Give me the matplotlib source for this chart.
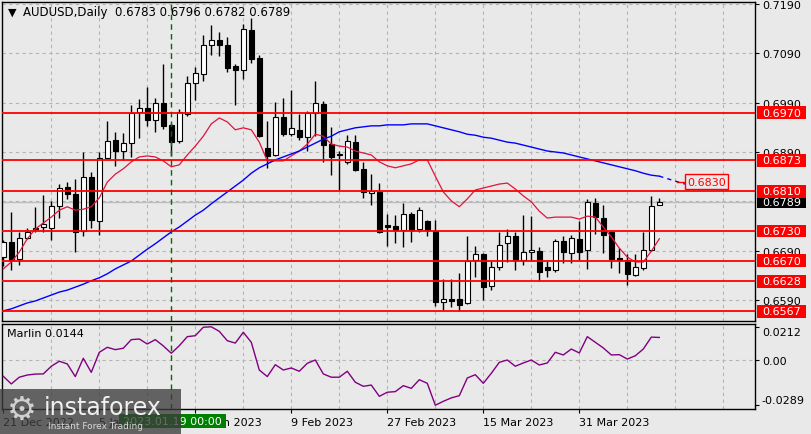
import matplotlib
matplotlib.use("Agg")
import matplotlib.pyplot as plt
import matplotlib.transforms as mtransforms
from matplotlib.patches import Rectangle

# candles (bar index 0 = 21 Dec 2022)
opens = [0.6677, 0.6708, 0.6673, 0.6715, 0.6736, 0.6737, 0.6735, 0.6780, 0.6819, 0.6805,
         0.6730, 0.6839, 0.6750, 0.6878, 0.6914, 0.6892, 0.6908, 0.6971, 0.6979, 0.6955,
         0.6989, 0.6945, 0.6912, 0.6967, 0.7030, 0.7048, 0.7107, 0.7117, 0.7107, 0.7064,
         0.7056, 0.7137, 0.7081, 0.6898, 0.6884, 0.6961, 0.6926, 0.6935, 0.6920, 0.6969,
         0.6987, 0.6906, 0.6884, 0.6870, 0.6910, 0.6856, 0.6807, 0.6809, 0.6742, 0.6740,
         0.6732, 0.6764, 0.6734, 0.6750, 0.6730, 0.6586, 0.6592, 0.6592, 0.6584, 0.6671,
         0.6683, 0.6618, 0.6657, 0.6705, 0.6720, 0.6671, 0.6687, 0.6689, 0.6657, 0.6651,
         0.6710, 0.6685, 0.6714, 0.6691, 0.6787, 0.6756, 0.6728, 0.6675, 0.6671, 0.6641,
         0.6655, 0.6691, 0.6783]
highs = [0.6712, 0.6768, 0.6728, 0.6736, 0.6779, 0.6803, 0.6791, 0.6825, 0.6829, 0.6835,
         0.6890, 0.6849, 0.6890, 0.6953, 0.6931, 0.6929, 0.6985, 0.6997, 0.7022, 0.6999,
         0.7068, 0.6949, 0.6977, 0.7044, 0.7062, 0.7127, 0.7147, 0.7133, 0.7123, 0.7068,
         0.7149, 0.7162, 0.7087, 0.6953, 0.6991, 0.6999, 0.7016, 0.6967, 0.6973, 0.7034,
         0.6993, 0.6941, 0.6892, 0.6924, 0.6924, 0.6870, 0.6845, 0.6827, 0.6764, 0.6762,
         0.6787, 0.6768, 0.6779, 0.6752, 0.6752, 0.6633, 0.6633, 0.6645, 0.6720, 0.6699,
         0.6685, 0.6669, 0.6728, 0.6734, 0.6728, 0.6762, 0.6760, 0.6697, 0.6669, 0.6714,
         0.6720, 0.6722, 0.6750, 0.6795, 0.6797, 0.6783, 0.6730, 0.6695, 0.6683, 0.6683,
         0.6728, 0.6801, 0.6796]
lows = [0.6659, 0.6651, 0.6661, 0.6713, 0.6728, 0.6728, 0.6712, 0.6756, 0.6795, 0.6687,
        0.6720, 0.6736, 0.6722, 0.6877, 0.6862, 0.6874, 0.6880, 0.6918, 0.6943, 0.6931,
        0.6937, 0.6882, 0.6908, 0.6963, 0.6995, 0.7034, 0.7087, 0.7085, 0.7052, 0.6985,
        0.7038, 0.7070, 0.6920, 0.6858, 0.6882, 0.6922, 0.6922, 0.6914, 0.6892, 0.6922,
        0.6870, 0.6843, 0.6813, 0.6866, 0.6852, 0.6797, 0.6783, 0.6726, 0.6699, 0.6705,
        0.6697, 0.6707, 0.6728, 0.6720, 0.6578, 0.6570, 0.6576, 0.6568, 0.6582, 0.6637,
        0.6590, 0.6610, 0.6651, 0.6667, 0.6651, 0.6661, 0.6669, 0.6629, 0.6637, 0.6647,
        0.6665, 0.6665, 0.6671, 0.6653, 0.6724, 0.6685, 0.6655, 0.6645, 0.6620, 0.6639,
        0.6651, 0.6689, 0.6782]
closes = [0.6708, 0.6671, 0.6715, 0.6728, 0.6734, 0.6745, 0.6780, 0.6817, 0.6805, 0.6728,
          0.6839, 0.6752, 0.6878, 0.6912, 0.6892, 0.6908, 0.6969, 0.6979, 0.6955, 0.6989,
          0.6943, 0.6910, 0.6971, 0.7030, 0.7050, 0.7107, 0.7117, 0.7107, 0.7060, 0.7056,
          0.7139, 0.7079, 0.6922, 0.6882, 0.6961, 0.6926, 0.6939, 0.6920, 0.6969, 0.6989,
          0.6904, 0.6880, 0.6886, 0.6912, 0.6854, 0.6809, 0.6811, 0.6728, 0.6738, 0.6732,
          0.6764, 0.6732, 0.6772, 0.6732, 0.6586, 0.6592, 0.6588, 0.6580, 0.6669, 0.6683,
          0.6616, 0.6657, 0.6701, 0.6720, 0.6671, 0.6687, 0.6691, 0.6647, 0.6651, 0.6710,
          0.6687, 0.6716, 0.6687, 0.6789, 0.6758, 0.6722, 0.6673, 0.6671, 0.6643, 0.6657,
          0.6691, 0.6781, 0.6789]

# fast MA (red) and slow MA (blue), read per bar
ma_fast = [0.6653, 0.6667, 0.6687, 0.6714, 0.6734, 0.6746, 0.6758, 0.6772, 0.6779, 0.6772,
           0.6774, 0.6779, 0.6797, 0.6829, 0.6845, 0.6856, 0.6870, 0.6880, 0.6882, 0.6880,
           0.6872, 0.6860, 0.6864, 0.6884, 0.6902, 0.6922, 0.6947, 0.6959, 0.6951, 0.6935,
           0.6939, 0.6935, 0.6910, 0.6872, 0.6872, 0.6872, 0.6882, 0.6892, 0.6906, 0.6926,
           0.6922, 0.6906, 0.6902, 0.6900, 0.6892, 0.6888, 0.6884, 0.6870, 0.6862, 0.6858,
           0.6862, 0.6866, 0.6874, 0.6874, 0.6841, 0.6809, 0.6791, 0.6779, 0.6795, 0.6813,
           0.6817, 0.6821, 0.6825, 0.6827, 0.6815, 0.6801, 0.6789, 0.6770, 0.6756, 0.6758,
           0.6758, 0.6758, 0.6754, 0.6760, 0.6758, 0.6738, 0.6718, 0.6695, 0.6677, 0.6667,
           0.6667, 0.6689, 0.6714]
ma_slow = [0.6568, 0.6572, 0.6578, 0.6584, 0.6588, 0.6594, 0.6600, 0.6606, 0.6610, 0.6616,
           0.6622, 0.6629, 0.6635, 0.6643, 0.6653, 0.6661, 0.6669, 0.6681, 0.6693, 0.6704,
           0.6716, 0.6728, 0.6738, 0.6750, 0.6762, 0.6772, 0.6785, 0.6797, 0.6809, 0.6821,
           0.6833, 0.6847, 0.6858, 0.6866, 0.6874, 0.6880, 0.6886, 0.6892, 0.6900, 0.6908,
           0.6916, 0.6922, 0.6931, 0.6935, 0.6939, 0.6941, 0.6943, 0.6943, 0.6945, 0.6945,
           0.6945, 0.6947, 0.6947, 0.6947, 0.6943, 0.6939, 0.6935, 0.6931, 0.6926, 0.6924,
           0.6920, 0.6918, 0.6914, 0.6910, 0.6908, 0.6904, 0.6900, 0.6896, 0.6892, 0.6890,
           0.6888, 0.6884, 0.6880, 0.6876, 0.6872, 0.6868, 0.6864, 0.6860, 0.6856, 0.6852,
           0.6847, 0.6843, 0.6841]
proj_bars = [82, 85.2]
proj_vals = [0.6841, 0.6825]
target = 0.6830

marlin = [-0.0104, -0.0153, -0.0110, -0.0096, -0.0090, -0.0089, -0.0040, -0.0008, -0.0025, -0.0106,
          0.0011, -0.0079, 0.0049, 0.0081, 0.0066, 0.0075, 0.0130, 0.0134, 0.0102, 0.0130,
          0.0090, 0.0043, 0.0091, 0.0149, 0.0155, 0.0209, 0.0212, 0.0183, 0.0123, 0.0108,
          0.0177, 0.0113, -0.0064, -0.0106, -0.0030, -0.0064, -0.0051, -0.0072, -0.0021, 0.0000,
          -0.0089, -0.0110, -0.0110, -0.0072, -0.0142, -0.0168, -0.0160, -0.0232, -0.0206, -0.0202,
          -0.0164, -0.0181, -0.0126, -0.0149, -0.0289, -0.0264, -0.0242, -0.0228, -0.0115, -0.0094,
          -0.0149, -0.0085, -0.0015, 0.0000, -0.0040, -0.0019, 0.0000, -0.0032, -0.0019, 0.0049,
          0.0032, 0.0070, 0.0045, 0.0149, 0.0113, 0.0077, 0.0032, 0.0034, 0.0006, 0.0027,
          0.0070, 0.0146, 0.0144]

levels = [0.6970, 0.6873, 0.6810, 0.6730, 0.6670, 0.6628, 0.6567]
price_ticks = [0.7190, 0.7090, 0.6990, 0.6890, 0.6690, 0.6590]
grid_prices = [0.7190, 0.7090, 0.6990, 0.6890, 0.6790, 0.6690, 0.6590]
last_price = 0.6789
date_bars = [0, 12, 24, 36, 48, 60, 72]
date_labels = ["21 Dec 2022", "5 Jan 2023", "24 Jan 2023", "9 Feb 2023",
               "27 Feb 2023", "15 Mar 2023", "31 Mar 2023"]
cross_bar = 21

BG = "#e9e9e9"
W, H = 812, 435

fig = plt.figure(figsize=(W / 100, H / 100), dpi=100, facecolor=BG)


def fbox(x0, y0, x1, y1):
    # pixel box (top-left origin) -> figure fraction rect
    return [x0 / W, 1 - y1 / H, (x1 - x0) / W, (y1 - y0) / H]


ax = fig.add_axes(fbox(2, 2.5, 755, 321.5), facecolor=BG)
ax2 = fig.add_axes(fbox(2, 324.5, 755, 410), facecolor=BG)

n = len(closes)
xs = list(range(n))

for a in (ax, ax2):
    a.set_xlim(-0.16, 93.96)
    for s in a.spines.values():
        s.set_color("black")
        s.set_linewidth(1)
    for b in range(6, 94, 6):
        a.axvline(b, color="#b4b4b4", lw=0.8, ls=(0, (3, 3)), zorder=0)
    a.axvline(cross_bar, color="#006e00", lw=1, ls=(0, (4, 3)), zorder=6)

ax.set_ylim(0.65484, 0.71951)
for g in grid_prices:
    ax.axhline(g, color="#b4b4b4", lw=0.8, ls=(0, (3, 3)), zorder=0)
ax.axhline(last_price, color="#bdbdbd", lw=1, zorder=1)

# candles
for i in xs:
    o, h, l, c = opens[i], highs[i], lows[i], closes[i]
    ax.vlines(i, l, h, color="black", lw=1, zorder=2)
    body = max(abs(c - o), 0.00009)
    fc = "white" if c >= o else "black"
    ax.bar(i, body, bottom=min(o, c), width=0.62, color=fc,
           edgecolor="black", linewidth=0.8, zorder=3)

ax.plot(xs, ma_fast, color="#e0143c", lw=0.9, zorder=4)
ax.plot(xs, ma_slow, color="#0000ff", lw=1.0, zorder=4)
ax.plot(proj_bars, proj_vals, color="#0000ff", lw=1.0, ls=(0, (3, 3)), zorder=4)
ax.plot([84.2, 85.6], [target, target], color="red", lw=1, zorder=4)
ax.text(87.9, target, "%.4f" % target, color="red", fontsize=8, ha="center", va="center",
        bbox=dict(boxstyle="square,pad=0.2", fc=BG, ec="red", lw=1), zorder=7)

for lv in levels:
    ax.axhline(lv, color="red", lw=1.3, zorder=5)

# right price scale
ax.yaxis.tick_right()
ax.set_yticks(price_ticks)
ax.set_yticklabels(["%.4f" % p for p in price_ticks])
ax.tick_params(axis="y", length=3, pad=2, labelsize=8, colors="black")
ax.set_xticks([])

blend = mtransforms.blended_transform_factory(ax.transAxes, ax.transData)
bx0, bw, bh = 1.0027, 0.0651, 0.00255


def price_tag(val, fc, z):
    ax.add_patch(Rectangle((bx0, val - bh / 2), bw, bh, transform=blend, fc=fc,
                           ec="none", clip_on=False, zorder=z))
    ax.text(bx0 + bw / 2, val, "%.4f" % val, transform=blend, color="white",
            fontsize=8, ha="center", va="center", clip_on=False, zorder=z + 1)


price_tag(last_price, "black", 8)
for lv in levels:
    price_tag(lv, "red", 10)

ax.text(21 / 753, 1 - 10 / 319, "AUDUSD,Daily  0.6783 0.6796 0.6782 0.6789",
        transform=ax.transAxes, fontsize=8.5, va="center", ha="left", zorder=9)
ax.text(10 / 753, 1 - 10 / 319, "\u25bc", transform=ax.transAxes, fontsize=8,
        va="center", ha="center", zorder=9)

# Marlin sub window
ax2.set_ylim(-0.0313, 0.0233)
ax2.axhline(0, color="#b4b4b4", lw=0.8, ls=(0, (3, 3)), zorder=0)
ax2.plot(xs, marlin, color="#800080", lw=1, zorder=4)
ax2.yaxis.tick_right()
ax2.set_yticks([0.0212, 0.0, -0.0289])
ax2.set_yticklabels(["0.0212", "0.00", "-0.0289"])
ax2.tick_params(axis="y", length=3, pad=2, labelsize=8)
ylabs = ax2.get_yticklabels()
ylabs[0].set_va("top")
ylabs[2].set_va("bottom")
ax2.set_xticks(date_bars)
ax2.set_xticklabels(date_labels, fontsize=8)
for t in ax2.get_xticklabels():
    t.set_ha("left")
ax2.tick_params(axis="x", length=3, pad=3)
ax2.text(5 / 753, 1 - 10 / 85.5, "Marlin 0.0144", transform=ax2.transAxes,
         fontsize=8, va="center", ha="left")

# crosshair date tag
fig.patches.append(Rectangle((119 / W, 1 - 429 / H), 107 / W, 14 / H,
                             transform=fig.transFigure, fc="#008000", ec="none", zorder=5))
fig.text(172.5 / W, 1 - 422 / H, "2023.01.19 00:00", color="white", fontsize=8,
         ha="center", va="center", zorder=6)

# watermark
fig.patches.append(Rectangle((0, 0), 181 / W, 45 / H, transform=fig.transFigure,
                             fc="#3c3c3c", ec="none", alpha=0.78, zorder=10))
fig.text(22 / W, 1 - 410 / H, "\u2699", color="#d0d0d0", fontsize=24,
         ha="center", va="center", zorder=11)
fig.text(44 / W, 1 - 408 / H, "instaforex", color="#f0f0f0", fontsize=17,
         ha="left", va="center", zorder=11)
fig.text(48 / W, 1 - 427 / H, "Instant Forex Trading", color="#d8d8d8", fontsize=6.5,
         ha="left", va="center", zorder=11)

fig.savefig("out.png", dpi=100, facecolor=BG)
